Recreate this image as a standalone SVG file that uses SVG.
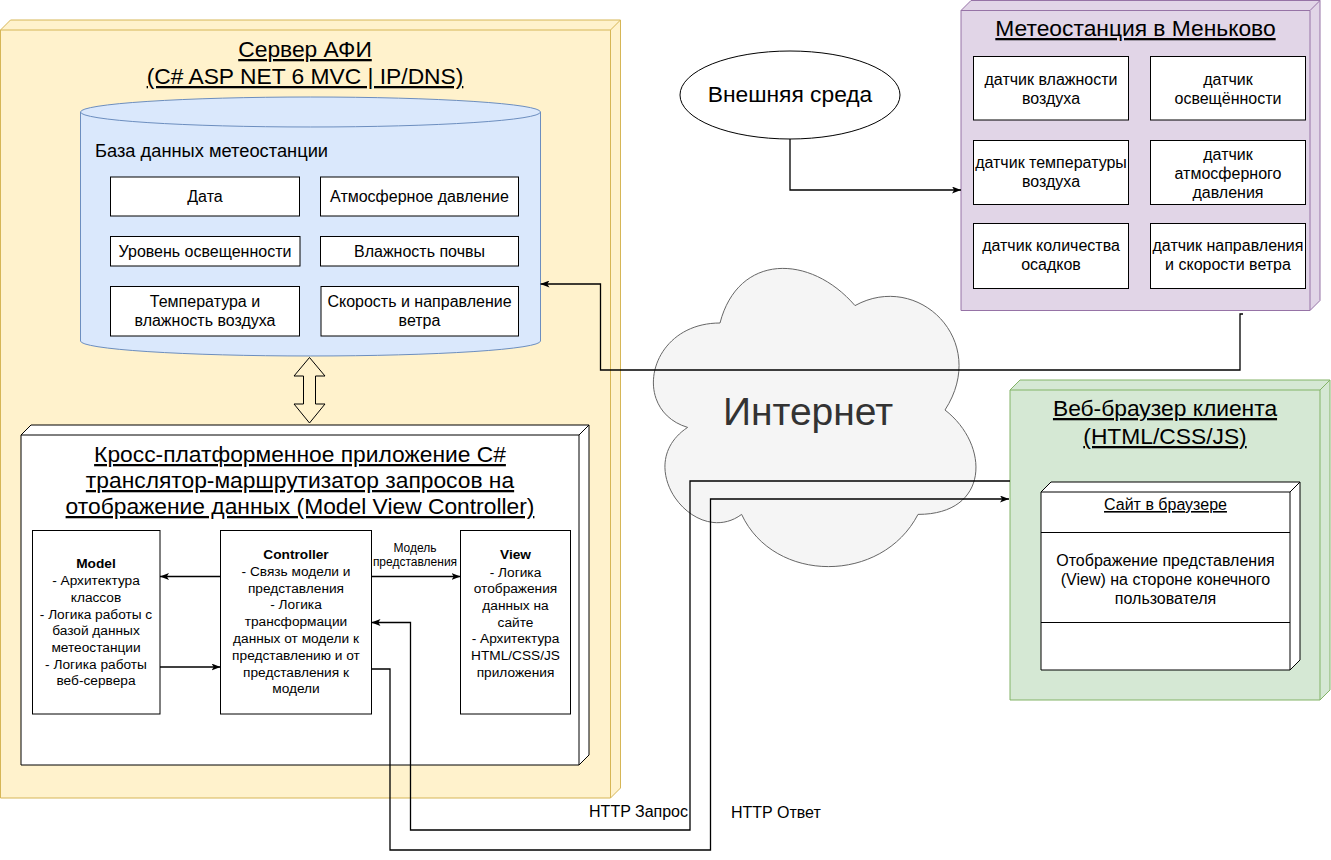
<svg xmlns="http://www.w3.org/2000/svg" width="1331" height="860" viewBox="0 0 1331 860">
<defs>
<style>
text{font-family:"Liberation Sans",Arial,Helvetica,sans-serif;fill:#000}
.t{font-size:22.8px;text-anchor:middle;text-decoration:underline}
.c16{font-size:16px;text-anchor:middle}
.m{font-size:13.7px;text-anchor:middle}
.bold{font-weight:bold}
.box{fill:#fff;stroke:#000;stroke-width:1}
.conn{fill:none;stroke:#000;stroke-width:1.3}
</style>
<marker id="arr" viewBox="0 0 9 7" markerWidth="9" markerHeight="7" refX="9" refY="3.5" orient="auto" markerUnits="userSpaceOnUse"><path d="M0,0 L9,3.5 L0,7 L2.2,3.5 Z" fill="#000"/></marker>
</defs>
<rect x="0" y="0" width="1331" height="860" fill="#fff"/>

<g id="server">
<path d="M0.5,30 L10.5,20 L620.5,20 L620.5,788 L610.5,798 L0.5,798 Z" fill="#fff2cc" stroke="#d6b656"/>
<path d="M0.5,30 L610.5,30 L610.5,798 M610.5,30 L620.5,20" fill="none" stroke="#d6b656"/>
<text class="t" x="305" y="57">Сервер АФИ</text>
<text class="t" x="305" y="84">(C# ASP NET 6 MVC | IP/DNS)</text>
</g>

<g id="database">
<path d="M80.5,112 A230,15 0 0 1 540.5,112 V341 A230,15 0 0 1 80.5,341 Z" fill="#dae8fc" stroke="#6c8ebf"/>
<path d="M80.5,112 A230,15 0 0 0 540.5,112" fill="none" stroke="#6c8ebf"/>
<text x="95" y="157" style="font-size:18.3px">База данных метеостанции</text>
<g id="db-date"><rect class="box" x="110.5" y="177" width="189" height="39"/><text class="c16" x="205" y="202">Дата</text></g>
<g id="db-pressure"><rect class="box" x="320.5" y="177" width="198" height="39"/><text class="c16" x="419.5" y="202">Атмосферное давление</text></g>
<g id="db-light"><rect class="box" x="110.5" y="236.5" width="189.5" height="29.5"/><text class="c16" x="205" y="257">Уровень освещенности</text></g>
<g id="db-soil"><rect class="box" x="320.5" y="236.5" width="198" height="29.5"/><text class="c16" x="419.5" y="257">Влажность почвы</text></g>
<g id="db-temp"><rect class="box" x="110.5" y="286.5" width="189" height="49.5"/><text class="c16" x="205" y="307">Температура и</text><text class="c16" x="205" y="326">влажность воздуха</text></g>
<g id="db-wind"><rect class="box" x="321" y="286.5" width="197.5" height="49.5"/><text class="c16" x="419.5" y="307">Скорость и направление</text><text class="c16" x="419.5" y="326">ветра</text></g>
</g>

<g id="db-app-arrow">
<path d="M309.5,357.5 L325,376 L315.5,376 L315.5,404 L325,404 L309.5,423 L294,404 L303.5,404 L303.5,376 L294,376 Z" fill="none" stroke="#000"/>
</g>

<g id="app">
<path d="M21,435 L31,425 L589,425 L589,755 L579,765 L21,765 Z" fill="#fff" stroke="#000"/>
<path d="M21,435 L579,435 L579,765 M579,435 L589,425" fill="none" stroke="#000"/>
<text class="t" x="300" y="462">Кросс-платформенное приложение C#</text>
<text class="t" x="300" y="488">транслятор-маршрутизатор запросов на</text>
<text class="t" x="300" y="514">отображение данных (Model View Controller)</text>
</g>

<g id="model">
<rect class="box" x="32.5" y="530.5" width="127.5" height="183.5"/>
<text class="m bold" x="96" y="568">Model</text>
<text class="m" x="96" y="585">- Архитектура</text>
<text class="m" x="96" y="601.5">классов</text>
<text class="m" x="96" y="618.5">- Логика работы с</text>
<text class="m" x="96" y="635">базой данных</text>
<text class="m" x="96" y="651.5">метеостанции</text>
<text class="m" x="96" y="668.5">- Логика работы</text>
<text class="m" x="96" y="685">веб-сервера</text>
</g>

<g id="controller">
<rect class="box" x="220.5" y="530.5" width="151" height="183.5"/>
<text class="m bold" x="296" y="559">Controller</text>
<text class="m" x="296" y="576">- Связь модели и</text>
<text class="m" x="296" y="592.5">представления</text>
<text class="m" x="296" y="609">- Логика</text>
<text class="m" x="296" y="626">трансформации</text>
<text class="m" x="296" y="643">данных от модели к</text>
<text class="m" x="296" y="659.5">представлению и от</text>
<text class="m" x="296" y="676.5">представления к</text>
<text class="m" x="296" y="693">модели</text>
</g>

<g id="view">
<rect class="box" x="460.5" y="530.5" width="110" height="183.5"/>
<text class="m bold" x="515.5" y="559">View</text>
<text class="m" x="515.5" y="576.5">- Логика</text>
<text class="m" x="515.5" y="593">отображения</text>
<text class="m" x="515.5" y="610">данных на</text>
<text class="m" x="515.5" y="626.5">сайте</text>
<text class="m" x="515.5" y="643">- Архитектура</text>
<text class="m" x="515.5" y="660">HTML/CSS/JS</text>
<text class="m" x="515.5" y="676.5">приложения</text>
</g>

<g id="environment">
<ellipse cx="790" cy="95" rx="110" ry="44" fill="#fff" stroke="#000"/>
<text x="790" y="102" style="font-size:22.8px;text-anchor:middle">Внешняя среда</text>
</g>

<g id="meteostation">
<path d="M961,10.5 L971,0.5 L1320,0.5 L1320,300.5 L1310,310.5 L961,310.5 Z" fill="#e1d5e7" stroke="#9673a6"/>
<path d="M961,10.5 L1310,10.5 L1310,310.5 M1310,10.5 L1320,0.5" fill="none" stroke="#9673a6"/>
<text class="t" x="1135.5" y="36">Метеостанция в Меньково</text>
<g id="s-hum"><rect class="box" x="973.5" y="56.5" width="155" height="63.5"/><text class="c16" x="1051" y="85">датчик влажности</text><text class="c16" x="1051" y="104">воздуха</text></g>
<g id="s-light"><rect class="box" x="1150.5" y="56.5" width="155" height="63.5"/><text class="c16" x="1228" y="85">датчик</text><text class="c16" x="1228" y="104">освещённости</text></g>
<g id="s-temp"><rect class="box" x="973.5" y="140.5" width="155" height="64"/><text class="c16" x="1051" y="168">датчик температуры</text><text class="c16" x="1051" y="187">воздуха</text></g>
<g id="s-press"><rect class="box" x="1150.5" y="140.5" width="155" height="64"/><text class="c16" x="1228" y="160">датчик</text><text class="c16" x="1228" y="179">атмосферного</text><text class="c16" x="1228" y="198">давления</text></g>
<g id="s-rain"><rect class="box" x="973.5" y="223.5" width="155" height="65"/><text class="c16" x="1051" y="251">датчик количества</text><text class="c16" x="1051" y="270">осадков</text></g>
<g id="s-wind"><rect class="box" x="1150.5" y="223.5" width="155" height="65"/><text class="c16" x="1228" y="251">датчик направления</text><text class="c16" x="1228" y="270">и скорости ветра</text></g>
</g>

<g id="internet">
<path d="M720,323 C648,323 630,410 687.6,427.4 C630,465.7 694.8,549.2 741.6,514.4 C774,584 882,584 918,514.4 C990,514.4 990,444.8 945,410 C990,340.4 918,270.8 855,305.6 C810,253.4 738,253.4 720,323 Z" fill="#f5f5f5" stroke="#666666"/>
<text x="808" y="425" style="font-size:39px;text-anchor:middle;fill:#333333">Интернет</text>
</g>

<g id="browser">
<path d="M1010,390 L1020,380 L1330,380 L1330,690 L1320,700 L1010,700 Z" fill="#d5e8d4" stroke="#82b366"/>
<path d="M1010,390 L1320,390 L1320,700 M1320,390 L1330,380" fill="none" stroke="#82b366"/>
<text class="t" x="1165" y="416">Веб-браузер клиента</text>
<text class="t" x="1165" y="444">(HTML/CSS/JS)</text>
<g id="site">
<path d="M1041,492 L1051,482 L1300,482 L1300,660 L1290,670 L1041,670 Z" fill="#fff" stroke="#000"/>
<path d="M1041,492 L1290,492 L1290,670 M1290,492 L1300,482 M1041,532.5 L1290,532.5 M1041,622.5 L1290,622.5" fill="none" stroke="#000"/>
<text x="1165.5" y="510" style="font-size:16px;text-anchor:middle;text-decoration:underline">Сайт в браузере</text>
<text class="c16" x="1165.5" y="566">Отображение представления</text>
<text class="c16" x="1165.5" y="585">(View) на стороне конечного</text>
<text class="c16" x="1165.5" y="604">пользователя</text>
</g>
</g>

<g id="connectors">
<path class="conn" d="M220.5,576.5 H160" marker-end="url(#arr)"/>
<path class="conn" d="M160,667 H220.5" marker-end="url(#arr)"/>
<path class="conn" d="M371.5,576.5 H460.5" marker-end="url(#arr)"/>
<text x="415" y="552" style="font-size:12px;text-anchor:middle">Модель</text>
<text x="415" y="566" style="font-size:12px;text-anchor:middle">представления</text>
<path class="conn" d="M790,139 V190 H961" marker-end="url(#arr)"/>
<path class="conn" d="M1243,314 H1240 V370 H600.5 V284 H540.5" marker-end="url(#arr)"/>
<path class="conn" d="M1010,481 H690 V830 H410.5 V622.5 H371.5" marker-end="url(#arr)"/>
<path class="conn" d="M371.5,669 H390 V850 H710.5 V499 H1009" marker-end="url(#arr)"/>
<text x="688" y="817" style="font-size:16px;text-anchor:end">HTTP Запрос</text>
<text x="731" y="818" style="font-size:16px">HTTP Ответ</text>
</g>
</svg>
